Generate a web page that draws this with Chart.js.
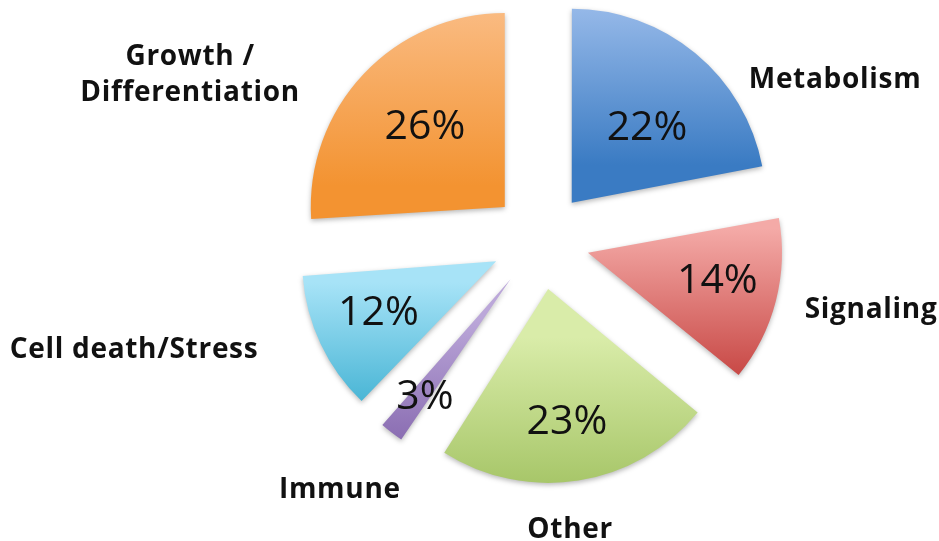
<!DOCTYPE html>
<html>
<head>
<meta charset="utf-8">
<script src="https://cdn.jsdelivr.net/npm/chart.js@4.4.1/dist/chart.umd.min.js"></script>
<style>
  html, body { margin: 0; padding: 0; background: #fff; }
  #wrap { width: 939px; height: 541px; }
</style>
</head>
<body>
<div id="wrap"><canvas id="pie" width="939" height="541"></canvas></div>
<script>
const categories = ["Metabolism", "Signaling", "Other", "Immune", "Cell death/Stress", "Growth /\nDifferentiation"];
const shares = [22, 14, 23, 3, 12, 26];
const topColors = ["#abc7f1", "#f4aaa7", "#d9eca9", "#bba7d9", "#a7e3f7", "#fbc290"];
const bottomColors = ["#3a7bc3", "#c4403d", "#97ba54", "#7a5aa5", "#38adcf", "#f39331"];

// where the labels sit: [clock angle in degrees, distance from pie centre in radii]
const pctLabelPos = [[42.7, 0.81], [102, 0.932], [171.6, 0.935], [216.8, 0.994], [246.5, 0.911], [315, 0.842]];
const nameLabelPos = [[61, 1.736], [101.5, 1.739], [174.1, 1.487], [219.1, 1.64], [255.2, 2.167], [295.6, 2.003]];

const RADIUS = 194;
const EXPLODE = 49; // how far every slice is pulled out of the centre

const total = shares.reduce((a, b) => a + b, 0);

// vertical gradient spanning each slice's own top..bottom
function sliceGradient(context) {
  const chart = context.chart;
  const area = chart.chartArea;
  const i = context.dataIndex;
  if (!area || i === undefined) return bottomColors[0];
  let start = 0;
  for (let k = 0; k < i; k++) start += shares[k] / total * 2 * Math.PI;
  const end = start + shares[i] / total * 2 * Math.PI;
  const mid = (start + end) / 2;
  const cy = (area.top + area.bottom) / 2;
  const vy = cy - EXPLODE * Math.cos(mid);
  const ys = [vy, vy - RADIUS * Math.cos(start), vy - RADIUS * Math.cos(end)];
  if (start < 1e-9 || end > 2 * Math.PI - 1e-9) ys.push(vy - RADIUS);
  if (start < Math.PI && end > Math.PI) ys.push(vy + RADIUS);
  const g = chart.ctx.createLinearGradient(0, Math.min(...ys), 0, Math.max(...ys));
  g.addColorStop(0, topColors[i]);
  g.addColorStop(1, bottomColors[i]);
  return g;
}

// chart.js grows thin exploded slices a little; keep every slice at the same radius
const keepRadius = {
  id: 'keepRadius',
  afterDatasetUpdate(chart, args) {
    args.meta.data.forEach(arc => {
      const fix = 1 - Math.sin(Math.min(Math.PI, arc.circumference));
      arc.outerRadius = RADIUS - ((arc.options.offset || 0) / 4) * fix;
    });
  }
};

const sliceShadow = {
  id: 'sliceShadow',
  beforeDatasetsDraw(chart) {
    const c = chart.ctx;
    c.save();
    c.shadowColor = 'rgba(0,0,0,0.28)';
    c.shadowBlur = 5;
    c.shadowOffsetX = 0;
    c.shadowOffsetY = 2;
  },
  afterDatasetsDraw(chart) {
    chart.ctx.restore();
  }
};

function drawCentered(c, lines, x, y, lineGap) {
  const capH = c.measureText('H').actualBoundingBoxAscent;
  const y0 = y - (lines.length - 1) * lineGap / 2;
  lines.forEach((line, k) => c.fillText(line, x, y0 + k * lineGap + capH / 2));
}

const sliceLabels = {
  id: 'sliceLabels',
  afterDraw(chart) {
    const c = chart.ctx;
    const area = chart.chartArea;
    const cx = (area.left + area.right) / 2;
    const cy = (area.top + area.bottom) / 2;
    c.save();
    c.fillStyle = '#111';
    c.textAlign = 'center';
    c.textBaseline = 'alphabetic';
    shares.forEach((v, i) => {
      const [deg, r] = pctLabelPos[i];
      const a = deg * Math.PI / 180;
      c.font = '41px "Open Sans"';
      c.letterSpacing = '0px';
      drawCentered(c, [v + '%'], cx + Math.sin(a) * r * RADIUS, cy - Math.cos(a) * r * RADIUS, 0);
    });
    categories.forEach((name, i) => {
      const [deg, r] = nameLabelPos[i];
      const a = deg * Math.PI / 180;
      c.font = 'bold 28px "Open Sans"';
      c.letterSpacing = '0.7px';
      drawCentered(c, name.split('\n'), cx + Math.sin(a) * r * RADIUS, cy - Math.cos(a) * r * RADIUS, 36.5);
    });
    c.restore();
  }
};

new Chart(document.getElementById('pie'), {
  type: 'pie',
  data: {
    labels: categories,
    datasets: [{
      data: shares,
      backgroundColor: sliceGradient,
      borderWidth: 0,
      offset: EXPLODE * 4,
      clip: false
    }]
  },
  options: {
    responsive: false,
    animation: false,
    events: [],
    radius: RADIUS,
    layout: { padding: { left: 142, right: 0, top: 0, bottom: 60 } },
    plugins: {
      legend: { display: false },
      tooltip: { enabled: false }
    }
  },
  plugins: [keepRadius, sliceShadow, sliceLabels]
});
</script>
</body>
</html>
